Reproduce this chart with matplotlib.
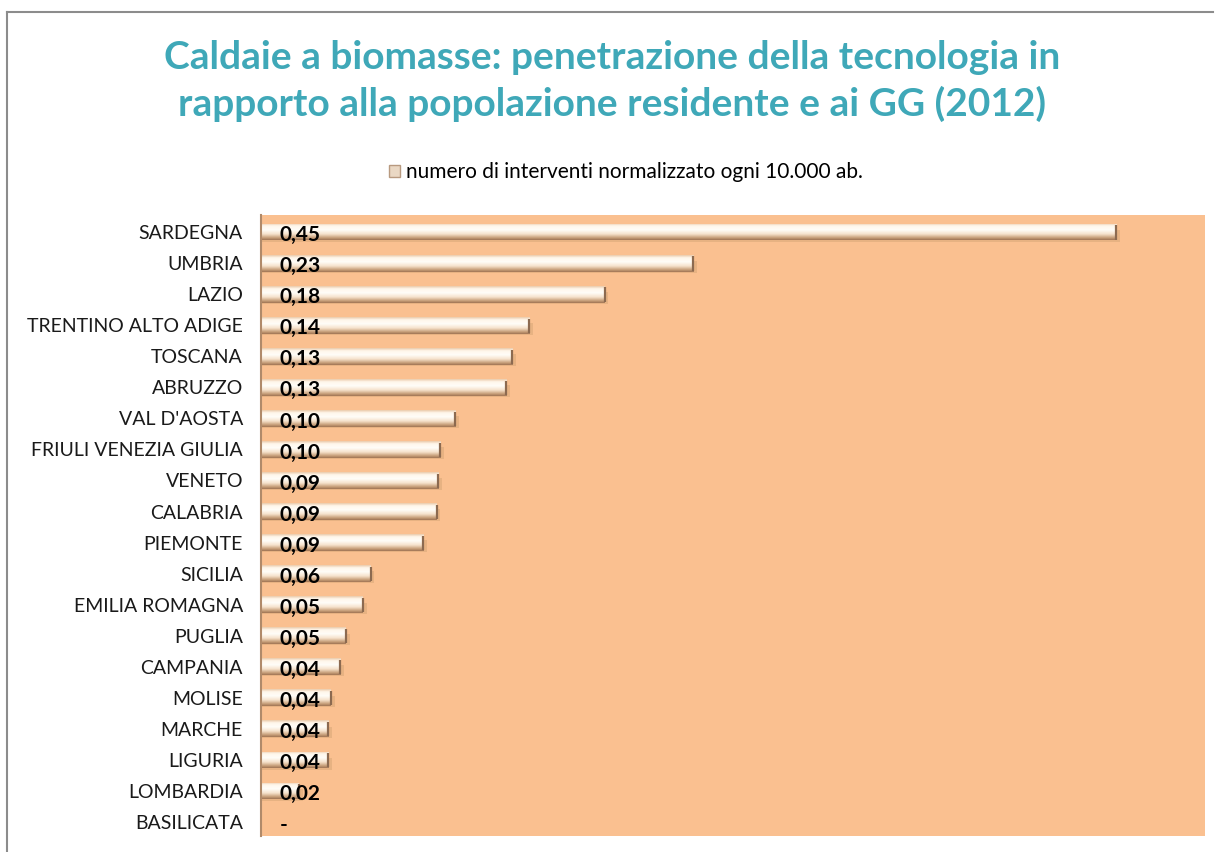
import numpy as np
import matplotlib
matplotlib.use("Agg")
import matplotlib.pyplot as plt
from matplotlib.colors import LinearSegmentedColormap
from matplotlib.lines import Line2D

regions = ["SARDEGNA", "UMBRIA", "LAZIO", "TRENTINO ALTO ADIGE", "TOSCANA",
           "ABRUZZO", "VAL D'AOSTA", "FRIULI VENEZIA GIULIA", "VENETO", "CALABRIA",
           "PIEMONTE", "SICILIA", "EMILIA ROMAGNA", "PUGLIA", "CAMPANIA",
           "MOLISE", "MARCHE", "LIGURIA", "LOMBARDIA", "BASILICATA"]
values = [0.453, 0.229, 0.182, 0.142, 0.133, 0.130, 0.103, 0.095, 0.094, 0.093,
          0.086, 0.058, 0.054, 0.045, 0.042, 0.037, 0.0355, 0.0355, 0.020, 0.0]
labels = ["0,45", "0,23", "0,18", "0,14", "0,13", "0,13", "0,10", "0,10", "0,09", "0,09",
          "0,09", "0,06", "0,05", "0,05", "0,04", "0,04", "0,04", "0,04", "0,02", "-"]
title = "Caldaie a biomasse: penetrazione della tecnologia in\nrapporto alla popolazione residente e ai GG (2012)"
legend_label = "numero di interventi normalizzato ogni 10.000 ab."

FONT = ["Lato", "DejaVu Sans"]
plt.rcParams["font.family"] = FONT

W, H = 1219, 852
fig = plt.figure(figsize=(W / 100, H / 100), dpi=100)
fig.patch.set_facecolor("white")

ax = fig.add_axes([261 / W, 1 - 836 / H, (1205 - 261) / W, (836 - 215) / H])
ax.set_facecolor("#FAC090")

y = np.arange(len(regions))
bh = 0.54
bars = ax.barh(y, values, height=bh, color="none", edgecolor="none", zorder=2)

cmap = LinearSegmentedColormap.from_list(
    "cyl", [(0.0, "#EACAAA"), (0.15, "#FFF6EA"), (0.4, "#FFFDF8"),
            (0.65, "#F6E2CC"), (0.87, "#C8A07A"), (1.0, "#A07454")])
grad = np.linspace(0, 1, 64).reshape(-1, 1)

for b, v, yi in zip(bars, values, y):
    if v <= 0:
        continue
    ax.barh(yi + 0.12, v + 0.002, height=bh * 0.7, color="#D9A878", alpha=0.55,
            edgecolor="none", zorder=1.5)
    im = ax.imshow(grad, extent=(0, v, yi + bh / 2, yi - bh / 2), aspect="auto",
                   cmap=cmap, interpolation="bilinear", zorder=2.5)
    im.set_clip_path(b)
    ax.plot([v, v], [yi - bh / 2 * 0.8, yi + bh / 2 * 0.9], color="#8C6A50",
            lw=1.6, solid_capstyle="butt", zorder=2.6)

for yi, lab in zip(y, labels):
    ax.text(0.0097, yi + 0.1, lab, ha="left", va="center", fontsize=15,
            fontweight="bold", color="black", zorder=3)

ax.set_xlim(0, 0.5)
ax.set_ylim(len(regions) - 0.55, -0.55)
ax.set_xticks([])
ax.set_yticks(y)
ax.set_yticklabels(regions, fontsize=14, color="#1a1a1a")
ax.tick_params(axis="y", length=0, pad=13)
for s in ["top", "right", "bottom"]:
    ax.spines[s].set_visible(False)
ax.spines["left"].set_color("#B08A6A")
ax.spines["left"].set_linewidth(1.5)

fig.text(612 / W, 1 - 81 / H, title, ha="center", va="center", fontsize=28,
         fontweight="bold", color="#3FA8B8", linespacing=1.38)

handle = matplotlib.patches.Patch(facecolor="#EAD8C4", edgecolor="#B89A80")
fig.legend([handle], [legend_label], loc="center", bbox_to_anchor=(626 / W, 1 - 172 / H),
           frameon=False, fontsize=15, handlelength=0.5, handleheight=0.5,
           handletextpad=0.3)

fig.add_artist(Line2D([7 / W, 7 / W], [0, 1 - 12 / H], color="#8C8C8C", lw=1.5))
fig.add_artist(Line2D([7 / W, 1 - 6 / W], [1 - 12 / H, 1 - 12 / H], color="#8C8C8C", lw=1.5))

fig.savefig("out.png", dpi=100, facecolor="white")
